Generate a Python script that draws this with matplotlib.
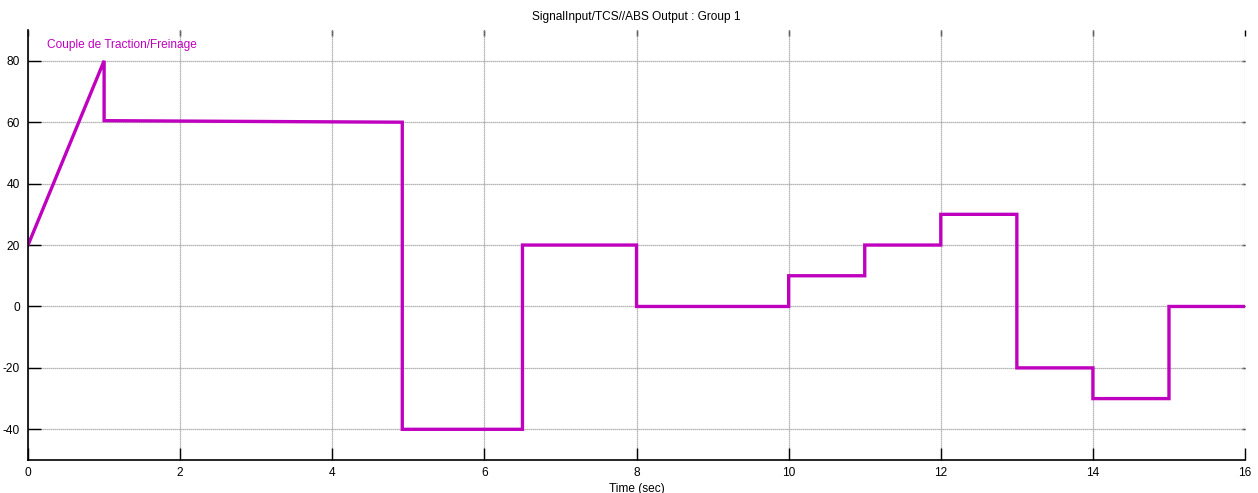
import numpy as np
import matplotlib.pyplot as plt

# signal breakpoints (time in s, torque)
time_pts = [0, 1, 1, 4.92, 4.92, 6.5, 6.5, 8, 8, 10, 10, 11, 11, 12, 12, 13, 13, 14, 14, 15, 15, 16]
torque_pts = [20, 80, 60.5, 60, -40, -40, 20, 20, 0, 0, 10, 10, 20, 20, 30, 30, -20, -20, -30, -30, 0, 0]

x_ticks = [0, 2, 4, 6, 8, 10, 12, 14, 16]
y_ticks = [-40, -20, 0, 20, 40, 60, 80]

plt.rcParams['font.family'] = ['Liberation Sans', 'DejaVu Sans']
plt.rcParams['axes.unicode_minus'] = False

fig = plt.figure(figsize=(12.58, 4.93), dpi=100)
ax = fig.add_axes([0.0223, 0.0669, 0.9674, 0.8721])

ax.plot(time_pts, torque_pts, color='#bf00bf', lw=2.4, solid_joinstyle='miter')
ax.text(0.25, 85.2, 'Couple de Traction/Freinage', color='#c000c0', fontsize=8.6, va='center')

ax.set_xlim(0, 16)
ax.set_ylim(-50, 90)
ax.set_xticks(x_ticks)
ax.set_yticks(y_ticks)
ax.grid(True, color='#a0a0a0', linestyle=(0, (1, 0.6)), lw=0.9)

for s in ['top', 'right']:
    ax.spines[s].set_visible(False)
ax.spines['left'].set_linewidth(1.2)
ax.spines['bottom'].set_linewidth(1.2)
ax.tick_params(direction='in', length=9, width=1, labelsize=8.6, pad=5)
ax.tick_params(axis='y', pad=6)

top = ax.secondary_xaxis('top')
top.set_xticks(x_ticks)
top.set_xticklabels([])
top.tick_params(direction='in', length=4, width=1)
top.spines['top'].set_visible(False)
right = ax.secondary_yaxis('right')
right.set_yticks(y_ticks)
right.set_yticklabels([])
right.tick_params(direction='in', length=2, width=1)
right.spines['right'].set_visible(False)

ax.set_title('SignalInput/TCS//ABS Output : Group 1', fontsize=8.6, pad=7)
ax.set_xlabel('Time (sec)', fontsize=8.6, labelpad=3)

fig.savefig('out.png', dpi=100)
